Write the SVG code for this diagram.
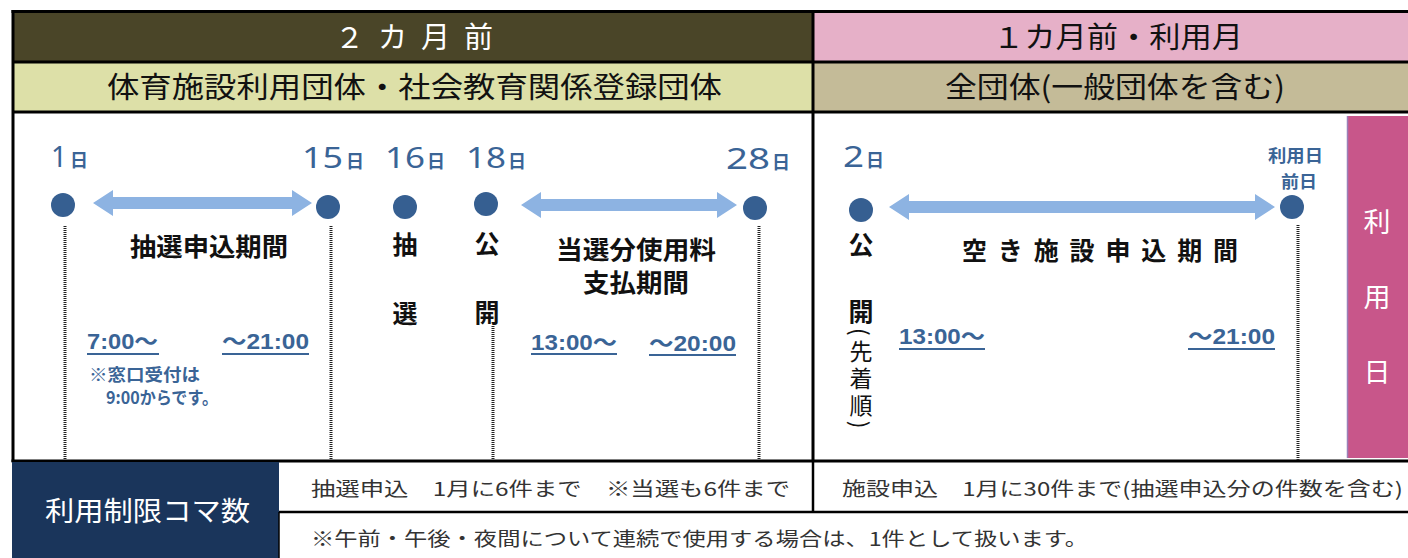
<svg xmlns="http://www.w3.org/2000/svg" width="1408" height="558" viewBox="0 0 1408 558">
<style>
.jp{font-family:"Noto Sans CJK JP","Noto Sans CJK SC",sans-serif}
.hd{font-family:"Noto Sans CJK JP",sans-serif;font-size:29px;fill:#111}
.dt{font-family:"Noto Sans","Liberation Sans","Noto Sans CJK JP",sans-serif;font-size:29px;fill:#3a6496}
.dts{font-family:"Noto Sans CJK JP",sans-serif;font-size:18px;font-weight:bold;fill:#3a6496}
.dot{fill:#365f91}
.arr{fill:#8db3e2}
.lbl{font-family:"Noto Sans CJK JP",sans-serif;font-size:25px;font-weight:bold;fill:#111}
.tm{font-family:"Liberation Sans","Noto Sans CJK JP",sans-serif;font-size:22px;font-weight:bold;fill:#3a6496}
.ul{stroke:#3a6496;stroke-width:2}
.dl{stroke:#222;stroke-width:3;stroke-dasharray:1 1;fill:none}
.bd{stroke:#000;stroke-width:3;fill:none}
.tb{font-family:"Noto Sans CJK JP",sans-serif;font-size:19px;fill:#333}
.vt{font-family:"Noto Sans CJK JP",sans-serif;font-size:23px;fill:#111;writing-mode:vertical-rl;letter-spacing:4px}
</style>
<rect width="1408" height="558" fill="#fff"/>
<g id="header-left-1">
<rect x="13" y="12" width="800" height="50" fill="#4a4528"/>
<text x="335" y="48" class="hd" style="fill:#fff" textLength="158" lengthAdjust="spacing">２カ月前</text>
</g>
<g id="header-right-1">
<rect x="813" y="12" width="595" height="50" fill="#e6b0c8"/>
<text x="993" y="48" class="hd" textLength="250" lengthAdjust="spacingAndGlyphs">１カ月前・利用月</text>
</g>
<g id="header-left-2">
<rect x="13" y="62" width="800" height="50" fill="#dde0a8"/>
<text x="107" y="98" class="hd" textLength="615" lengthAdjust="spacingAndGlyphs">体育施設利用団体・社会教育関係登録団体</text>
</g>
<g id="header-right-2">
<rect x="813" y="62" width="595" height="50" fill="#c4bb98"/>
<text x="945" y="98" class="hd" textLength="340" lengthAdjust="spacingAndGlyphs">全団体(一般団体を含む)</text>
</g>
<g id="use-day-bar">
<rect x="1347" y="116" width="61" height="342" fill="#c8568a"/>
<line x1="1347.5" y1="116" x2="1347.5" y2="458" stroke="#9a80b8" stroke-width="1.5"/>
<text x="1377" y="232" class="jp" font-size="27" fill="#fff" text-anchor="middle">利</text>
<text x="1377" y="307" class="jp" font-size="27" fill="#fff" text-anchor="middle">用</text>
<text x="1377" y="382" class="jp" font-size="27" fill="#fff" text-anchor="middle">日</text>
</g>
<g id="frame">
<line x1="11.5" y1="11.5" x2="1408" y2="11.5" class="bd"/>
<line x1="13" y1="62" x2="1408" y2="62" class="bd"/>
<line x1="13" y1="112" x2="1408" y2="112" class="bd"/>
<line x1="13" y1="10" x2="13" y2="462" class="bd"/>
<line x1="813" y1="10" x2="813" y2="462" class="bd"/>
<line x1="11.5" y1="461" x2="1408" y2="461" class="bd"/>
</g>
<g id="connectors">
<line x1="65" y1="226" x2="65" y2="460" class="dl"/>
<line x1="331" y1="226" x2="331" y2="460" class="dl"/>
<line x1="493" y1="326" x2="493" y2="460" class="dl"/>
<line x1="759" y1="226" x2="759" y2="460" class="dl"/>
<line x1="1298" y1="225" x2="1298" y2="460" class="dl"/>
<polygon class="arr" points="93,203 113,190 113,197 292,197 292,190 312,203 292,216 292,209 113,209 113,216"/>
<polygon class="arr" points="521,205 541,192 541,199 717,199 717,192 737,205 717,218 717,211 541,211 541,218"/>
<polygon class="arr" points="889,207 909,194 909,201 1255,201 1255,194 1275,207 1255,220 1255,213 909,213 909,220"/>
</g>
<g id="day1">
<text x="51" y="167" class="dt" textLength="16" lengthAdjust="spacingAndGlyphs">1</text>
<text x="70" y="167" class="dts">日</text>
<circle cx="63" cy="205" r="12" class="dot"/>
</g>
<g id="day15">
<text x="302" y="168" class="dt" textLength="41" lengthAdjust="spacingAndGlyphs">15</text>
<text x="346" y="168" class="dts">日</text>
<circle cx="328" cy="207" r="12" class="dot"/>
</g>
<g id="day16">
<text x="385" y="168" class="dt" textLength="40" lengthAdjust="spacingAndGlyphs">16</text>
<text x="427" y="168" class="dts">日</text>
<circle cx="405" cy="207" r="12" class="dot"/>
<text x="405" y="254" class="lbl" text-anchor="middle">抽</text>
<text x="405" y="323" class="lbl" text-anchor="middle">選</text>
</g>
<g id="day18">
<text x="466" y="168" class="dt" textLength="40" lengthAdjust="spacingAndGlyphs">18</text>
<text x="508" y="168" class="dts">日</text>
<circle cx="486" cy="204" r="12" class="dot"/>
<text x="487" y="253" class="lbl" text-anchor="middle">公</text>
<text x="487" y="322" class="lbl" text-anchor="middle">開</text>
</g>
<g id="day28">
<text x="726" y="169" class="dt" textLength="44" lengthAdjust="spacingAndGlyphs">28</text>
<text x="772" y="169" class="dts">日</text>
<circle cx="755" cy="208" r="12" class="dot"/>
</g>
<g id="lottery-period">
<text x="130" y="256" class="lbl" textLength="158" lengthAdjust="spacingAndGlyphs">抽選申込期間</text>
<text x="87" y="349" class="tm" textLength="71" lengthAdjust="spacingAndGlyphs">7:00〜</text>
<line x1="87" y1="354" x2="159" y2="354" class="ul"/>
<text x="222" y="349" class="tm" textLength="87" lengthAdjust="spacingAndGlyphs">〜21:00</text>
<line x1="222" y1="354" x2="309" y2="354" class="ul"/>
<text x="89" y="381" class="jp" font-size="17" font-weight="bold" fill="#3a6496" textLength="111" lengthAdjust="spacingAndGlyphs">※窓口受付は</text>
<text x="106" y="404" class="jp" font-size="17" font-weight="bold" fill="#3a6496" textLength="112" lengthAdjust="spacingAndGlyphs">9:00からです。</text>
</g>
<g id="payment-period">
<text x="556" y="259" class="lbl" textLength="160" lengthAdjust="spacingAndGlyphs">当選分使用料</text>
<text x="583" y="292" class="lbl" textLength="106" lengthAdjust="spacingAndGlyphs">支払期間</text>
<text x="531" y="350" class="tm" textLength="86" lengthAdjust="spacingAndGlyphs">13:00〜</text>
<line x1="531" y1="354" x2="617" y2="354" class="ul"/>
<text x="649" y="351" class="tm" textLength="87" lengthAdjust="spacingAndGlyphs">〜20:00</text>
<line x1="649" y1="355" x2="736" y2="355" class="ul"/>
</g>
<g id="day2">
<text x="843" y="167" class="dt" textLength="21" lengthAdjust="spacingAndGlyphs">2</text>
<text x="866" y="167" class="dts">日</text>
<circle cx="861" cy="210" r="12" class="dot"/>
<text x="861" y="254" class="lbl" text-anchor="middle">公</text>
<text x="861" y="321" class="lbl" text-anchor="middle">開</text>
<text x="861" y="328" class="vt">(先着順)</text>
</g>
<g id="day-before">
<text x="1268" y="162" class="jp" font-size="17" font-weight="bold" fill="#3a6496" textLength="55" lengthAdjust="spacingAndGlyphs">利用日</text>
<text x="1281" y="188" class="jp" font-size="17" font-weight="bold" fill="#3a6496" textLength="36" lengthAdjust="spacingAndGlyphs">前日</text>
<circle cx="1292" cy="207" r="12" class="dot"/>
</g>
<g id="vacant-period">
<text x="962" y="260" class="lbl" textLength="276" lengthAdjust="spacing">空き施設申込期間</text>
<text x="899" y="344" class="tm" textLength="86" lengthAdjust="spacingAndGlyphs">13:00〜</text>
<line x1="899" y1="349" x2="985" y2="349" class="ul"/>
<text x="1188" y="344" class="tm" textLength="87" lengthAdjust="spacingAndGlyphs">〜21:00</text>
<line x1="1188" y1="349" x2="1275" y2="349" class="ul"/>
</g>
<g id="limit-table">
<rect x="12" y="462" width="267" height="96" fill="#1a355b"/>
<text x="45" y="521" class="jp" font-size="27" fill="#fff" textLength="205" lengthAdjust="spacingAndGlyphs">利用制限コマ数</text>
<line x1="279" y1="512" x2="1408" y2="512" stroke="#000" stroke-width="2.5"/>
<line x1="279" y1="512" x2="279" y2="558" stroke="#000" stroke-width="1.5"/>
<line x1="813" y1="462" x2="813" y2="512" stroke="#000" stroke-width="2.5"/>
<text x="311" y="496" class="tb" textLength="479" lengthAdjust="spacingAndGlyphs">抽選申込　1月に6件まで　※当選も6件まで</text>
<text x="842" y="496" class="tb" textLength="561" lengthAdjust="spacingAndGlyphs">施設申込　1月に30件まで(抽選申込分の件数を含む)</text>
<text x="311" y="546" class="tb" textLength="777" lengthAdjust="spacingAndGlyphs">※午前・午後・夜間について連続で使用する場合は、1件として扱います。</text>
</g>
</svg>
